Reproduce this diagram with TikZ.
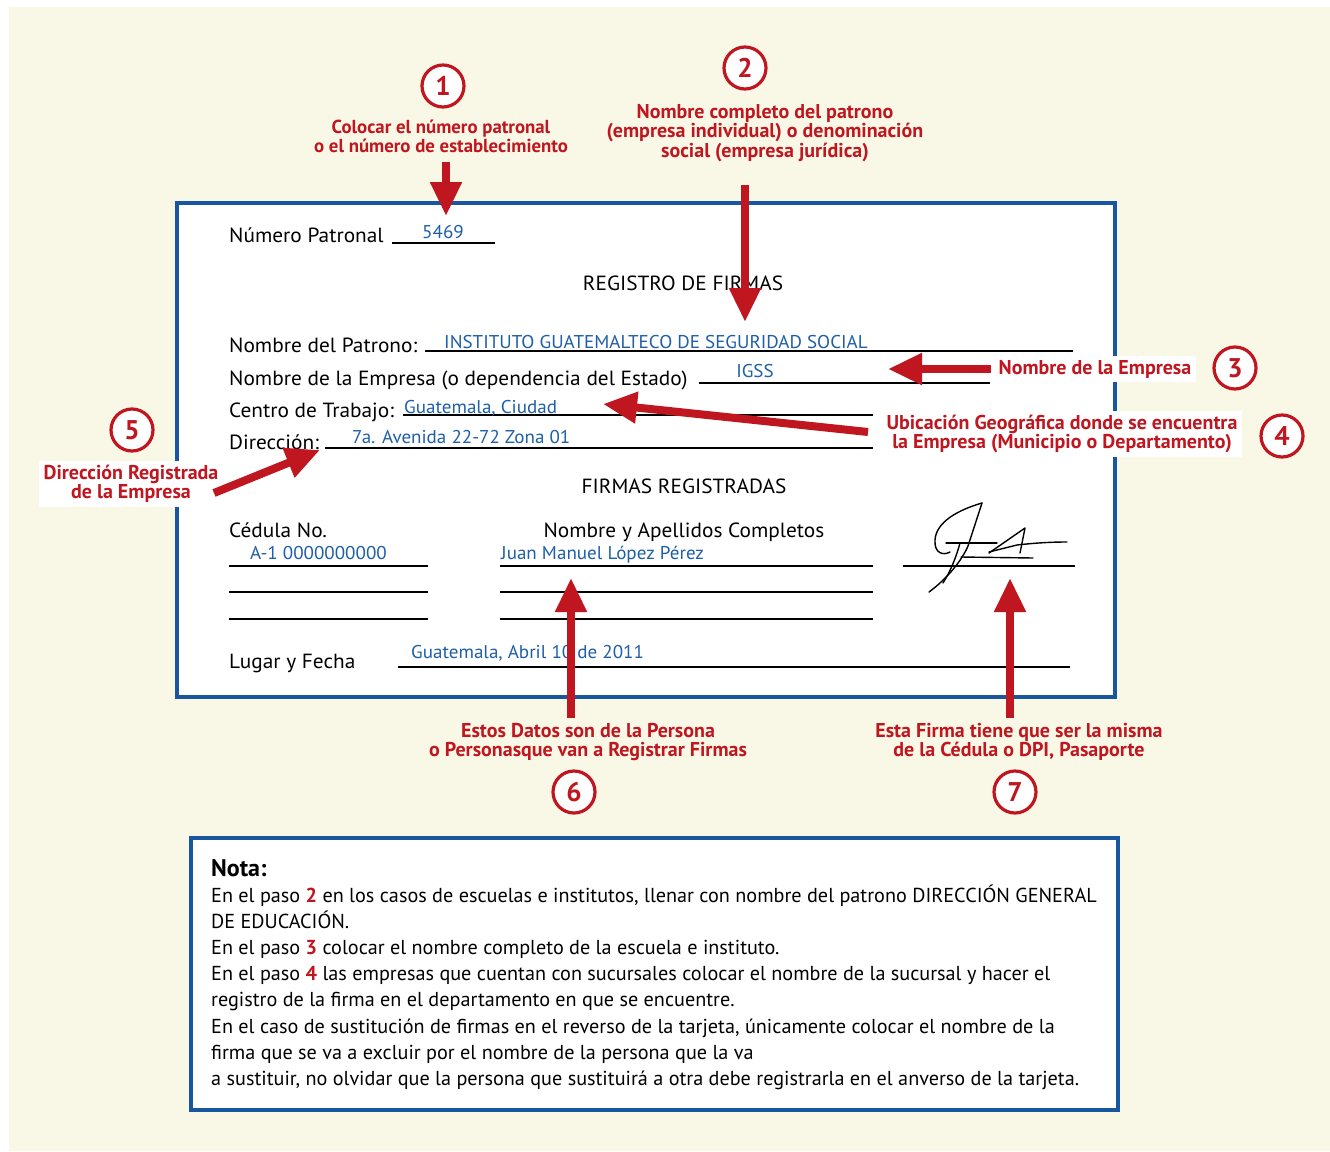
\documentclass[tikz,border=0pt]{standalone}
\usepackage{fontspec}
\setmainfont{PT Sans}
\newfontfamily\formfont[FakeStretch=1.04]{PT Sans}
\newfontfamily\bluefont[FakeStretch=1.03]{PT Sans}
\newfontfamily\condfont{PT Sans}
\newfontfamily\labfont{PT Sans}
\usetikzlibrary{arrows.meta}
\definecolor{myred}{RGB}{192,22,32}
\definecolor{formblue}{RGB}{24,86,160}
\definecolor{txtblue}{RGB}{30,95,168}
\definecolor{cream}{RGB}{249,248,231}
\tikzset{
  formtxt/.style={anchor=base west,inner sep=0pt,font=\formfont\fontsize{20.5}{23}\selectfont,text=black},
  ctrtxt/.style={anchor=base,inner sep=0pt,font=\formfont\fontsize{20.5}{23}\selectfont,text=black},
  bluetxt/.style={anchor=base west,inner sep=0pt,font=\bluefont\fontsize{18.5}{21}\selectfont,text=txtblue},
  fline/.style={line width=1.6pt,black},
  lab/.style={align=center,inner sep=0pt,text=myred,font=\labfont\bfseries\fontsize{20}{19.5}\selectfont},
  labbox/.style={lab,fill=white,inner xsep=5pt,inner ysep=4pt},
  numc/.style={circle,draw=myred,line width=3.2pt,fill=white,minimum size=42pt,inner sep=0pt,text=myred,font=\bfseries\fontsize{27}{27}\selectfont},
  bigarrow/.style={draw=myred,line width=8pt,-{Triangle[length=34pt,width=30pt]}},
  notatxt/.style={anchor=base west,inner sep=0pt,font=\condfont\fontsize{20.2}{22}\selectfont,text=black},
  sig/.style={line width=1.4pt,black,line join=round,line cap=round}
}
\newcommand{\rn}[1]{\textcolor{myred}{\bfseries #1}}
\begin{document}
\begin{tikzpicture}[x=1pt,y=-1pt]
\useasboundingbox (0,0) rectangle (1330,1151);
\fill[white] (0,0) rectangle (1330,1151);
\fill[cream] (9,7) rectangle (1330,1151);
% main form
\draw[formblue,line width=3.5pt,fill=white] (177,203) rectangle (1115,697);
% form texts
\node[formtxt] (np) at (229,242) {Número Patronal};
\draw[fline] (392,243) -- (495,243);
\node[bluetxt,anchor=base] (v5469) at (443,238) {5469};
\node[ctrtxt] (reg) at (683,290) {REGISTRO DE FIRMAS};
\node[formtxt] (ndp) at (229,352) {Nombre del Patrono:};
\draw[fline] (425,351) -- (1073,351);
\node[bluetxt] (inst) at (444,348) {INSTITUTO GUATEMALTECO DE SEGURIDAD SOCIAL};
\node[formtxt] (nde) at (229,385) {Nombre de la Empresa (o dependencia del Estado)};
\draw[fline] (699,383) -- (990,383);
\node[bluetxt,anchor=base] (igss) at (755,377) {IGSS};
\node[formtxt] (cdt) at (229,417) {Centro de Trabajo:};
\draw[fline] (403,415) -- (873,415);
\node[bluetxt] (gua) at (404,413) {Guatemala, Ciudad};
\node[formtxt] (dir) at (229,449) {Dirección:};
\draw[fline] (325,448) -- (873,448);
\node[bluetxt] (ave) at (352,443) {7a. Avenida 22-72 Zona 01};
\node[ctrtxt] (freg) at (684,493) {FIRMAS REGISTRADAS};
\node[formtxt] (ced) at (229,537) {Cédula No.};
\node[ctrtxt] (nyac) at (684,537) {Nombre y Apellidos Completos};
\node[bluetxt] (a1) at (250,559) {A-1 0000000000};
\node[bluetxt] (juan) at (501,559) {Juan Manuel López Pérez};
\foreach \yy in {566,592,619}{
  \draw[fline] (229,\yy) -- (428,\yy);
  \draw[fline] (500,\yy) -- (873,\yy);
}
\draw[fline] (903,566) -- (1075,566);
\node[formtxt] (lyf) at (229,668) {Lugar y Fecha};
\draw[fline] (398,667) -- (1070,667);
\node[bluetxt] (gab) at (411,658) {Guatemala, Abril 10 de 2011};
% signature
\draw[sig] (982,503) .. controls (958,510) and (936,522) .. (935,540)
  .. controls (934,553) and (943,556) .. (950,552);
\draw[sig] (982,503) -- (968,546) .. controls (962,560) and (948,578) .. (929,592);
\draw[sig] (960,543) .. controls (956,558) and (950,572) .. (943,583);
\draw[sig] (946,543) -- (997,543);
\draw[sig] (989,553) -- (1025,528) -- (1020,553);
\draw[sig] (989,552) -- (1017,545) .. controls (1035,543) and (1050,542) .. (1067,542);
\draw[sig] (961,557) -- (1033,558);
% nota box
\draw[formblue,line width=3.5pt,fill=white] (191,838) rectangle (1118,1110);
\node[anchor=base west,inner sep=0pt,font=\condfont\bfseries\fontsize{24}{26}\selectfont] (nota) at (211,876) {Nota:};
\node[notatxt] (n1) at (211,902) {En el paso \rn{2} en los casos de escuelas e institutos, llenar con nombre del patrono DIRECCIÓN GENERAL};
\node[notatxt] (n2) at (211,928) {DE EDUCACIÓN.};
\node[notatxt] (n3) at (211,954) {En el paso \rn{3} colocar el nombre completo de la escuela e instituto.};
\node[notatxt] (n4) at (211,980) {En el paso \rn{4} las empresas que cuentan con sucursales colocar el nombre de la sucursal y hacer el};
\node[notatxt] (n5) at (211,1006) {registro de la firma en el departamento en que se encuentre.};
\node[notatxt] (n6) at (211,1033) {En el caso de sustitución de firmas en el reverso de la tarjeta, únicamente colocar el nombre de la};
\node[notatxt] (n7) at (211,1059) {firma que se va a excluir por el nombre de la persona que la va};
\node[notatxt] (n8) at (211,1085) {a sustituir, no olvidar que la persona que sustituirá a otra debe registrarla en el anverso de la tarjeta.};
% labels
\node[lab,font=\labfont\bfseries\fontsize{18.8}{19}\selectfont] (l1) at (441,136) {Colocar el número patronal\\o el número de establecimiento};
\node[lab] (l2) at (765,133) {Nombre completo del patrono\\(empresa individual) o denominación\\social (empresa jurídica)};
\node[labbox] (l3) at (1095,369) {Nombre de la Empresa};
\node[labbox] (l4) at (1062,434) {Ubicación Geográfica donde se encuentra\\la Empresa (Municipio o Departamento)};
\node[labbox] (l5) at (131,484) {Dirección Registrada\\de la Empresa};
\node[lab] (l6) at (588,742) {Estos Datos son de la Persona\\o Personasque van a Registrar Firmas};
\node[lab] (l7) at (1019,742) {Esta Firma tiene que ser la misma\\de la Cédula o DPI, Pasaporte};
% number circles
\node[numc] (c1) at (443,86) {1};
\node[numc] (c2) at (745,68) {2};
\node[numc] (c3) at (1235,368) {3};
\node[numc] (c4) at (1282,436) {4};
\node[numc] (c5) at (132,430) {5};
\node[numc] (c6) at (574,792) {6};
\node[numc] (c7) at (1015,792) {7};
% arrows
\coordinate (a1s) at (446,162); \coordinate (a1e) at (446,216);
\coordinate (a2s) at (745,185); \coordinate (a2e) at (745,322);
\coordinate (a3s) at (991,369); \coordinate (a3e) at (888,369);
\coordinate (a4s) at (868,432); \coordinate (a4e) at (603,404);
\coordinate (a5s) at (214,493); \coordinate (a5e) at (320,450);
\coordinate (a6s) at (571,718); \coordinate (a6e) at (571,578);
\coordinate (a7s) at (1010,718); \coordinate (a7e) at (1010,578);
\draw[bigarrow] (a1s) -- (a1e);
\draw[bigarrow] (a2s) -- (a2e);
\draw[bigarrow] (a3s) -- (a3e);
\draw[bigarrow] (a4s) -- (a4e);
\draw[bigarrow] (a5s) -- (a5e);
\draw[bigarrow] (a6s) -- (a6e);
\draw[bigarrow] (a7s) -- (a7e);
\end{tikzpicture}
\end{document}
